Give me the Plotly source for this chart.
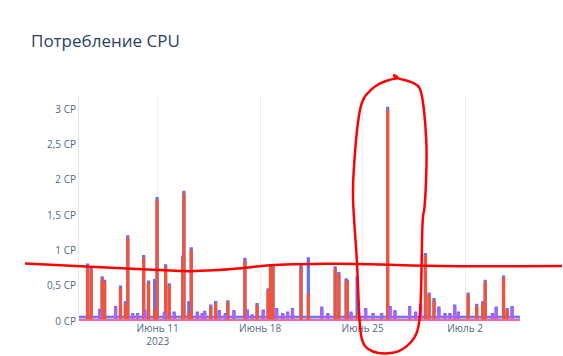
import pandas as pd
import plotly.graph_objects as go

TITLE = "Потребление CPU"

# sampling grid of the series (2-hour samples)
GRID_START = "2023-06-05 14:00"
GRID_END = "2023-07-05 18:00"
GRID_STEP = "2h"
X_RANGE = ["2023-06-05 15:00", "2023-07-05 18:00"]

# x tick labels
TICK_DATES = ["2023-06-11", "2023-06-18", "2023-06-25", "2023-07-02"]
TICK_TEXT = ["Июнь 11<br>2023", "Июнь 18", "Июнь 25", "Июль 2"]

# baseline levels (CP)
BLUE_BASE = 0.06
RED_BASE = 0.01
PURPLE_BASE = 0.0
PINK_BASE = 0.015

# large spikes: (time, blue value, red value)
SPIKES = [
    ("2023-06-06 04:00", 0.80, 0.76),
    ("2023-06-06 10:00", 0.74, 0.71),
    ("2023-06-07 04:00", 0.62, 0.59),
    ("2023-06-07 08:00", 0.57, 0.54),
    ("2023-06-08 10:00", 0.49, 0.46),
    ("2023-06-08 18:00", 0.27, 0.22),
    ("2023-06-08 22:00", 1.20, 1.16),
    ("2023-06-10 00:00", 0.92, 0.88),
    ("2023-06-10 08:00", 0.56, 0.52),
    ("2023-06-10 18:00", 0.58, 0.15),
    ("2023-06-10 22:00", 1.74, 1.70),
    ("2023-06-11 12:00", 0.79, 0.75),
    ("2023-06-11 18:00", 0.52, 0.49),
    ("2023-06-12 16:00", 0.91, 0.87),
    ("2023-06-12 18:00", 1.83, 1.79),
    ("2023-06-13 02:00", 0.27, 0.10),
    ("2023-06-13 06:00", 1.03, 0.99),
    ("2023-06-14 14:00", 0.22, 0.19),
    ("2023-06-14 22:00", 0.27, 0.24),
    ("2023-06-15 18:00", 0.28, 0.25),
    ("2023-06-16 22:00", 0.88, 0.84),
    ("2023-06-17 18:00", 0.24, 0.21),
    ("2023-06-18 12:00", 0.45, 0.42),
    ("2023-06-18 16:00", 0.79, 0.76),
    ("2023-06-18 20:00", 0.79, 0.76),
    ("2023-06-20 18:00", 0.78, 0.75),
    ("2023-06-21 06:00", 0.89, 0.38),
    ("2023-06-23 02:00", 0.76, 0.73),
    ("2023-06-23 08:00", 0.68, 0.65),
    ("2023-06-23 20:00", 0.59, 0.56),
    ("2023-06-23 22:00", 0.57, 0.54),
    ("2023-06-24 14:00", 0.62, 0.08),
    ("2023-06-26 16:00", 3.02, 2.97),
    ("2023-06-29 06:00", 0.95, 0.92),
    ("2023-06-29 12:00", 0.39, 0.36),
    ("2023-06-29 20:00", 0.31, 0.28),
    ("2023-07-02 04:00", 0.39, 0.36),
    ("2023-07-02 18:00", 0.23, 0.20),
    ("2023-07-03 04:00", 0.27, 0.24),
    ("2023-07-03 08:00", 0.57, 0.54),
    ("2023-07-04 14:00", 0.63, 0.60),
    ("2023-07-04 20:00", 0.17, 0.14),
]

# small bumps: (time, value)
BUMPS = [
    ("2023-06-07 00:00", 0.16), ("2023-06-08 02:00", 0.20),
    ("2023-06-09 06:00", 0.10), ("2023-06-09 14:00", 0.10),
    ("2023-06-10 02:00", 0.15), ("2023-06-11 10:00", 0.12),
    ("2023-06-12 02:00", 0.12), ("2023-06-13 16:00", 0.12),
    ("2023-06-14 00:00", 0.10), ("2023-06-14 04:00", 0.13),
    ("2023-06-15 04:00", 0.14), ("2023-06-15 14:00", 0.10),
    ("2023-06-16 04:00", 0.14), ("2023-06-17 02:00", 0.15),
    ("2023-06-17 10:00", 0.08), ("2023-06-18 04:00", 0.15),
    ("2023-06-19 02:00", 0.17), ("2023-06-19 12:00", 0.10),
    ("2023-06-19 20:00", 0.12), ("2023-06-20 04:00", 0.17),
    ("2023-06-22 04:00", 0.19), ("2023-06-22 14:00", 0.10),
    ("2023-06-24 04:00", 0.12), ("2023-06-25 04:00", 0.17),
    ("2023-06-25 16:00", 0.10), ("2023-06-26 06:00", 0.10),
    ("2023-06-26 20:00", 0.20), ("2023-06-27 04:00", 0.14),
    ("2023-06-28 04:00", 0.20), ("2023-06-28 14:00", 0.12),
    ("2023-06-28 22:00", 0.23), ("2023-06-30 04:00", 0.19),
    ("2023-06-30 14:00", 0.10), ("2023-06-30 22:00", 0.10),
    ("2023-07-01 06:00", 0.22), ("2023-07-01 12:00", 0.12),
    ("2023-07-03 20:00", 0.10), ("2023-07-04 02:00", 0.19),
    ("2023-07-05 04:00", 0.20),
]

# hand-drawn red marks over the screenshot (pixel positions in the image)
HAND_LINE_PX = [(25, 263.5), (76, 266), (126, 268.3), (159, 270), (192, 271.7),
                (236, 269), (269, 265), (302, 264), (350, 263.5), (412, 265.7),
                (470, 266.5), (562, 266)]
HAND_LOOP_PX = [(393, 75), (400, 78), (392, 77), (417, 83), (422, 93), (425.5, 123),
                (427, 157), (425, 207), (422.5, 217), (421.7, 257), (421, 300),
                (419, 328), (413, 341), (400, 351.7), (385, 354), (372, 352),
                (363, 345), (360, 330), (358.5, 300), (357, 260), (354, 220),
                (352.5, 190), (355, 150), (358, 120), (362, 100), (370, 90),
                (380, 83), (392, 79), (399, 78)]

# ---------------------------------------------------------------
W, H = 563, 356
ML, MR, MT, MB = 79, 43, 95, 35
PW, PH = W - ML - MR, H - MT - MB

times = pd.date_range(GRID_START, GRID_END, freq=GRID_STEP)
pos = {t: i for i, t in enumerate(times)}
n = len(times)
blue = [BLUE_BASE] * n
red = [RED_BASE] * n
purple = [PURPLE_BASE] * n
pink = [PINK_BASE] * n
for t, b, r in SPIKES:
    i = pos[pd.Timestamp(t)]
    blue[i] = b
    red[i] = r
for t, v in BUMPS:
    i = pos[pd.Timestamp(t)]
    blue[i] = max(blue[i], v)
    purple[i] = max(purple[i], v - 0.02)

fig = go.Figure()
for vals, col in [(blue, "#636efa"), (red, "#EF553B"), (purple, "#ab63fa"), (pink, "#FF6692")]:
    fig.add_trace(go.Scatter(x=times, y=vals, mode="lines", line=dict(color=col, width=2, shape="hv"),
                             fill="tozeroy", hoverinfo="skip", showlegend=False))


def px_to_paper(pts):
    return [((x - ML) / PW, (MT + PH - y) / PH) for x, y in pts]


def path_of(pts):
    p = px_to_paper(pts)
    s = "M %.4f,%.4f" % p[0]
    for i in range(1, len(p) - 1):
        mx = (p[i][0] + p[i + 1][0]) / 2
        my = (p[i][1] + p[i + 1][1]) / 2
        s += " Q %.4f,%.4f %.4f,%.4f" % (p[i][0], p[i][1], mx, my)
    s += " L %.4f,%.4f" % p[-1]
    return s


shapes = []
for pts in (HAND_LINE_PX, HAND_LOOP_PX):
    shapes.append(dict(type="path", xref="paper", yref="paper", path=path_of(pts),
                       line=dict(color="#ff0000", width=2.5), layer="above"))

fig.update_layout(
    width=W, height=H, autosize=False,
    margin=dict(l=ML, r=MR, t=MT, b=MB, pad=0, autoexpand=False),
    paper_bgcolor="white", plot_bgcolor="white",
    separators=", ",
    font=dict(family="Open Sans, verdana, arial, sans-serif", size=10, color="#506784"),
    title=dict(text=TITLE, x=31 / W, xanchor="left", xref="container",
               y=1 - 41 / H, yanchor="middle", yref="container",
               font=dict(size=17, color="#2a3f5f")),
    shapes=shapes,
    xaxis=dict(range=X_RANGE, tickvals=TICK_DATES, ticktext=TICK_TEXT,
               showgrid=True, gridcolor="#eeeeee", zeroline=False, showline=False,
               ticks="", automargin=False),
    yaxis=dict(range=[0, 3.2], tick0=0, dtick=0.5, ticksuffix=" CP",
               showgrid=False, zeroline=False, showline=True, linecolor="#e6e6e6",
               linewidth=1, ticks="", automargin=False),
)

fig.write_html("out.html")
